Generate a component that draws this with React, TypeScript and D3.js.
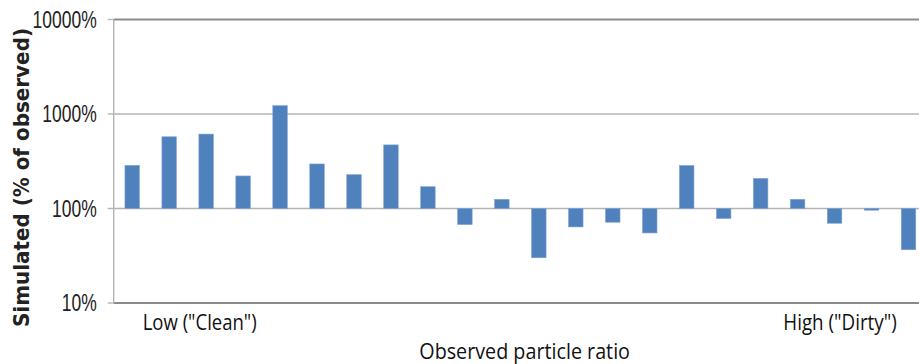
import React from "react";
import * as d3 from "d3";

const categories = [
  "1", "2", "3", "4", "5", "6", "7", "8", "9", "10", "11",
  "12", "13", "14", "15", "16", "17", "18", "19", "20", "21", "22",
];
const simulatedPct = [
  286, 574, 613, 221, 1225, 296, 228, 471, 170, 67.6, 125,
  30.1, 63.8, 71.6, 55.1, 285, 78.3, 208, 125, 69.8, 96, 36.6,
];
const yTicks = [10, 100, 1000, 10000];
const yTickLabels = ["10%", "100%", "1000%", "10000%"];
const xEndLabels = ['Low ("Clean")', 'High ("Dirty")'];
const yTitle = "Simulated (% of observed)";
const xTitle = "Observed particle ratio";

const W = 919;
const H = 364;
const plotLeft = 113.7;
const plotRight = 927;
const plotTop = 19.5;
const plotBottom = 303;

export default function App() {
  const x = d3
    .scaleBand<string>()
    .domain(categories)
    .range([plotLeft, plotRight])
    .paddingInner(0.608)
    .paddingOuter(0.304);
  const y = d3.scaleLog().domain([10, 10000]).range([plotBottom, plotTop]);
  const base = y(100);

  return (
    <div style={{ position: "absolute", left: 0, top: 0 }}>
      <svg width={W} height={H} style={{ display: "block" }}>
        <rect x={0} y={0} width={W} height={H} fill="#ffffff" />
        {/* gridlines */}
        {yTicks.map((t, i) => {
          const edge = i === 0 || i === yTicks.length - 1;
          return (
            <line
              key={"g" + t}
              x1={plotLeft}
              x2={plotRight}
              y1={y(t)}
              y2={y(t)}
              stroke={edge ? "#8a8a8a" : "#b4b4b4"}
              strokeWidth={edge ? 1.8 : 1.4}
            />
          );
        })}
        {/* y axis line */}
        <line
          x1={plotLeft}
          x2={plotLeft}
          y1={plotTop}
          y2={plotBottom}
          stroke="#b4b4b4"
          strokeWidth={1.4}
        />
        {/* ticks */}
        {yTicks.map((t) => (
          <line
            key={"t" + t}
            x1={plotLeft - 6}
            x2={plotLeft}
            y1={y(t)}
            y2={y(t)}
            stroke="#b4b4b4"
            strokeWidth={1.4}
          />
        ))}
        {/* bars */}
        {simulatedPct.map((v, i) => {
          const yv = y(v);
          const top = Math.min(yv, base);
          const h = Math.max(1.5, Math.abs(yv - base));
          return (
            <rect
              key={"b" + i}
              x={x(categories[i])}
              y={top}
              width={x.bandwidth()}
              height={h}
              fill="#4f81bd"
              stroke="#7fa3d0"
              strokeWidth={0.6}
            />
          );
        })}
        {/* tick labels */}
        {yTicks.map((t, i) => (
          <text
            key={"l" + t}
            transform={`translate(96.7,${y(t) + 8}) scale(0.76,1)`}
            textAnchor="end"
            fontFamily="Liberation Sans, Arial, sans-serif"
            fontSize={23}
            fill="#222"
          >
            {yTickLabels[i]}
          </text>
        ))}
        {/* y title */}
        <text
          transform={`translate(29,177.5) rotate(-90)`}
          textAnchor="middle"
          fontFamily="DejaVu Sans, Verdana, sans-serif"
          fontWeight="bold"
          fontSize={21}
          textLength={299}
          lengthAdjust="spacingAndGlyphs"
          fill="#222"
        >
          {yTitle}
        </text>
        {/* end labels */}
        <text
          x={142.7}
          y={329.5}
          fontFamily="Open Sans, sans-serif"
          fontSize={21.5}
          textLength={114}
          lengthAdjust="spacingAndGlyphs"
          fill="#111"
        >
          {xEndLabels[0]}
        </text>
        <text
          x={783.3}
          y={329.5}
          fontFamily="Open Sans, sans-serif"
          fontSize={21.5}
          textLength={113.4}
          lengthAdjust="spacingAndGlyphs"
          fill="#111"
        >
          {xEndLabels[1]}
        </text>
        {/* x title */}
        <text
          x={419.3}
          y={359}
          fontFamily="Open Sans, sans-serif"
          fontSize={21}
          textLength={210.7}
          lengthAdjust="spacingAndGlyphs"
          fill="#111"
        >
          {xTitle}
        </text>
      </svg>
    </div>
  );
}
